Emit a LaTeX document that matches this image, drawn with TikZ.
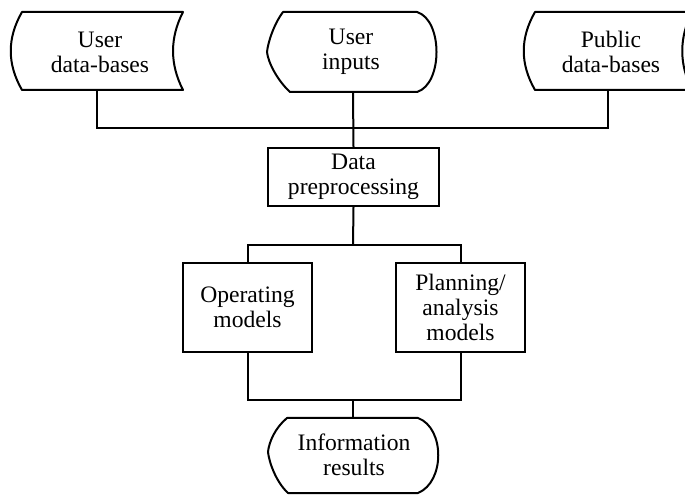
\documentclass[tikz,border=0pt]{standalone}
\usepackage{fontspec}
\setmainfont{Liberation Serif}
\begin{document}
\begin{tikzpicture}[x=0.5pt,y=-0.5pt,
  lbl/.style={align=center, font=\fontsize{11.8}{12.5}\selectfont, inner sep=0pt},
  box/.style={draw, line width=1pt, lbl},
  shp/.style={draw, line width=1pt, line join=round},
  wire/.style={draw, line width=1pt}]
\useasboundingbox (0,0) rectangle (685,496);
% top shapes
\draw[shp] (22,12) -- (183,12) .. controls (169.7,38) and (169.7,64) .. (183,90)
  -- (22,90) .. controls (7,64) and (7,38) .. cycle;
\node[lbl] (ud) at (100,52) {User\\data-bases};
\coordinate (udb) at (97,90);

\draw[shp] (283,12) -- (417,12) .. controls (443,20) and (443,84) .. (417,92)
  -- (290,92) .. controls (277,80) and (268,62) .. (267,52)
  .. controls (268,42) and (274,24) .. cycle;
\node[lbl] (ui) at (351,52) {User\\inputs};
\coordinate (uib) at (353,92);

\draw[shp] (535,12) -- (692,12) .. controls (679,38) and (679,64) .. (692,90)
  -- (535,90) .. controls (520,64) and (520,38) .. cycle;
\node[lbl] (pd) at (611,52) {Public\\data-bases};
\coordinate (pdb) at (608,90);

% boxes
\node[box, minimum width=85.5pt, minimum height=29pt] (dp) at (353.5,177) {Data\\preprocessing};
\node[box, minimum width=64.5pt, minimum height=44.5pt] (om) at (247.5,307.5) {Operating\\models};
\node[box, minimum width=64.5pt, minimum height=44.5pt] (pm) at (460.5,307.5) {Planning/\\analysis\\models};

% bottom shape
\draw[shp] (287,418) -- (418,418) .. controls (445,428) and (445,482) .. (418,493)
  -- (288,493) .. controls (276,482) and (269,462) .. (268,452)
  .. controls (269,442) and (275,428) .. cycle;
\node[lbl] (ir) at (354,455) {Information\\results};
\coordinate (irt) at (353,418);

% junctions
\coordinate (j1) at (353,128);
\coordinate (j2) at (353,245);
\coordinate (j3) at (353,400);

% connectors
\draw[wire] (udb) |- (j1) -| (pdb);
\draw[wire] (uib) -- (dp.north);
\draw[wire] (dp.south) -- (j2);
\draw[wire] (om.north) |- (j2) -| (pm.north);
\draw[wire] (om.south) |- (j3) -| (pm.south);
\draw[wire] (j3) -- (irt);
\end{tikzpicture}
\end{document}
